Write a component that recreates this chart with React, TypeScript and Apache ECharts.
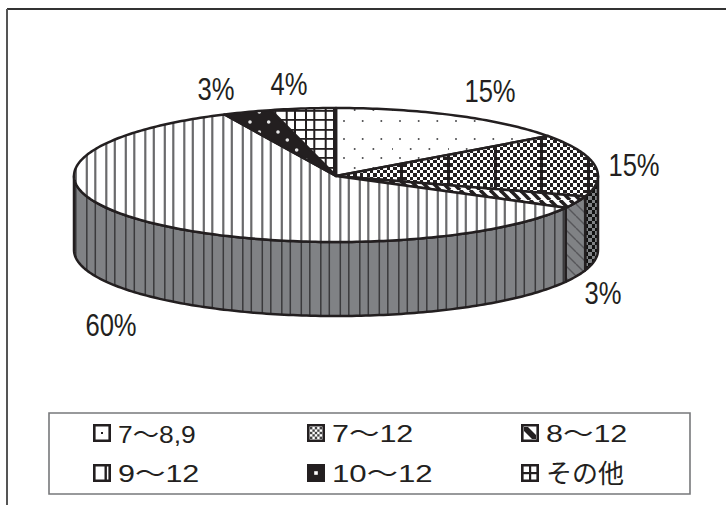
import React, { useEffect, useRef } from "react";
import * as echarts from "echarts";

// Share of each planting period, in percent, clockwise from twelve o'clock.
const periods = ["7〜8,9", "7〜12", "8〜12", "9〜12", "10〜12", "その他"];
const shares = [15, 15, 3, 60, 3, 4];

const INK = "#231f20";
const WALL = "#808285";
const FONT = '"Liberation Sans", "Noto Sans CJK JP", sans-serif';

// Pie projection on the page.
const CX = 336;
const CY = 176;
const RX = 262;
const RY_BACK = 68;
const RY_FRONT = 66;
const DEPTH = 74;

const labelAnchors = [
  [490, 91],
  [634, 165],
  [603, 293],
  [111, 325],
  [216, 89],
  [289, 84],
];
const legendCols = [93, 307, 521];
const legendRows = [424, 464];
const legendStretch = [1.1, 1.27, 1.27, 1.27, 1.3, 1];

type Draw = (c: CanvasRenderingContext2D) => void;

function tile(w: number, h: number, draw: Draw) {
  const canvas = document.createElement("canvas");
  canvas.width = w;
  canvas.height = h;
  draw(canvas.getContext("2d") as CanvasRenderingContext2D);
  return { image: canvas, repeat: "repeat", imageWidth: w, imageHeight: h };
}

function fillAll(c: CanvasRenderingContext2D, w: number, h: number, color: string) {
  c.fillStyle = color;
  c.fillRect(0, 0, w, h);
}

function dots(c: CanvasRenderingContext2D, pts: number[][], size: number, color: string) {
  c.fillStyle = color;
  pts.forEach(([x, y]) => {
    c.beginPath();
    c.arc(x, y, size / 2, 0, Math.PI * 2);
    c.fill();
  });
}

// Checks snapped to whole pixels so they stay crisp.
function checker(
  c: CanvasRenderingContext2D,
  cols: number,
  rows: number,
  w: number,
  h: number,
  color: string,
) {
  c.fillStyle = color;
  for (let i = 0; i < cols; i++) {
    const x0 = Math.round((i * w) / cols);
    const x1 = Math.round(((i + 1) * w) / cols);
    for (let j = 0; j < rows; j++) {
      if ((i + j) % 2 !== 0) continue;
      const y0 = Math.round((j * h) / rows);
      const y1 = Math.round(((j + 1) * h) / rows);
      c.fillRect(x0, y0, x1 - x0, y1 - y0);
    }
  }
}

function stripes(c: CanvasRenderingContext2D, xs: number[], h: number, width: number, color: string) {
  c.fillStyle = color;
  xs.forEach((x) => c.fillRect(x - width / 2, 0, width, h));
}

function buildFills() {
  const ribXs = [8.8, 17.3, 28.3, 36.8];
  const sparse = tile(56, 76, (c) => {
    fillAll(c, 56, 76, "#fff");
    const rows: number[][] = [
      [34, 10.7],
      [45, 0],
      [63, 0],
      [73, 10.7],
      [6, 0],
      [16, 10.7],
    ];
    const pts: number[][] = [];
    rows.forEach(([y, dx]) => {
      for (let k = 0; k < 3; k++) pts.push([(8 + dx + k * 18.67) % 56, y]);
    });
    dots(c, pts, 2, "#4d4d4f");
  });
  const check = tile(140, 20, (c) => {
    fillAll(c, 140, 20, "#fff");
    checker(c, 42, 6, 140, 20, INK);
    c.fillStyle = INK;
    [27, 74, 120].forEach((x) => c.fillRect(x, 0, 3, 20));
  });
  const checkWall = tile(14, 14, (c) => {
    fillAll(c, 14, 14, "#111");
    checker(c, 4, 4, 14, 14, WALL);
  });
  const diagonal = tile(10, 10, (c) => {
    fillAll(c, 10, 10, "#fff");
    c.strokeStyle = INK;
    c.lineWidth = 3.6;
    [-10, 0, 10].forEach((o) => {
      c.beginPath();
      c.moveTo(o, 0);
      c.lineTo(o + 10, 10);
      c.stroke();
    });
  });
  const diagonalWall = tile(12, 12, (c) => {
    fillAll(c, 12, 12, WALL);
    c.strokeStyle = "#56565a";
    c.lineWidth = 1.4;
    [-12, 0, 12].forEach((o) => {
      c.beginPath();
      c.moveTo(o, 0);
      c.lineTo(o + 12, 12);
      c.stroke();
    });
  });
  const ribs = tile(39, 8, (c) => {
    fillAll(c, 39, 8, "#fff");
    stripes(c, ribXs, 8, 2.2, "#6a6a6c");
  });
  const ribsWall = tile(39, 8, (c) => {
    fillAll(c, 39, 8, WALL);
    stripes(c, ribXs, 8, 1.5, "#3a3a3c");
  });
  const blackDots = tile(56, 38, (c) => {
    fillAll(c, 56, 38, INK);
    const pts: number[][] = [];
    [
      [8, 0],
      [18, 9.33],
      [26, 0],
      [36, 9.33],
    ].forEach(([y, dx]) => {
      for (let k = 0; k < 3; k++) pts.push([(7.33 + dx + k * 18.67) % 56, y]);
    });
    dots(c, pts, 3.6, "#e8e8e8");
  });
  const grid = tile(39, 38, (c) => {
    fillAll(c, 39, 38, "#fff");
    stripes(c, [2.3, 13.7, 22, 33], 38, 2, INK);
    c.fillStyle = INK;
    [6, 16, 25, 35].forEach((y) => c.fillRect(0, y - 1, 39, 1.8));
  });
  return {
    tops: [sparse, check, diagonal, ribs, blackDots, grid],
    walls: ["#fff", checkWall, diagonalWall, ribsWall, INK, "#fff"],
  };
}

// Projects a clockwise angle (radians, zero at the top) on to the top ellipse.
function rim(a: number): number[] {
  const cos = Math.cos(a);
  return [CX + RX * Math.sin(a), CY - (cos > 0 ? RY_BACK : RY_FRONT) * cos];
}

function arcPoints(a0: number, a1: number): number[][] {
  const n = Math.max(2, Math.ceil(((a1 - a0) * 180) / Math.PI));
  const pts: number[][] = [];
  for (let i = 0; i <= n; i++) pts.push(rim(a0 + ((a1 - a0) * i) / n));
  return pts;
}

function legendMark(index: number, x: number, y: number) {
  const s = 18;
  const detail: any[] = [];
  const ink = { fill: INK };
  const white = { fill: "#fff" };
  const box = (bx: number, by: number, w: number, h: number, style: any) => ({
    type: "rect",
    shape: { x: x + bx, y: y + by, width: w, height: h },
    style,
  });
  let base = "#fff";
  if (index === 0) detail.push(box(8, 8, 2, 2, ink));
  if (index === 1) {
    base = "#fff";
    for (let i = 0; i < 5; i++) {
      for (let j = 0; j < 5; j++) {
        if ((i + j) % 2 === 0) detail.push(box(3 + i * 2.4, 3 + j * 2.4, 2.4, 2.4, { fill: "#444" }));
      }
    }
  }
  if (index === 2) {
    detail.push({
      type: "polygon",
      shape: {
        points: [
          [x + 3, y + 3],
          [x + 7, y + 3],
          [x + 15, y + 11],
          [x + 15, y + 15],
          [x + 11, y + 15],
          [x + 3, y + 7],
        ],
      },
      style: ink,
    });
  }
  if (index === 3) detail.push(box(11.5, 1, 2.4, 16, ink));
  if (index === 4) {
    base = INK;
    detail.push(box(7.2, 7.2, 3.6, 3.6, white));
  }
  if (index === 5) detail.push(box(8, 1, 2.2, 16, ink), box(1, 8, 16, 2.2, ink));
  return [
    {
      type: "rect",
      shape: { x: x + 1.3, y: y + 1.3, width: s - 2.6, height: s - 2.6 },
      style: { fill: base, stroke: INK, lineWidth: 2.6 },
    },
    ...detail,
  ];
}

function legendGraphics() {
  const items: any[] = [];
  periods.forEach((name, i) => {
    const x = legendCols[i % 3];
    const y = legendRows[Math.floor(i / 3)];
    const isKana = name === "その他";
    items.push(...legendMark(i, x, y));
    items.push({
      type: "text",
      x: x + 25,
      y: y + 10,
      scaleX: legendStretch[i],
      style: {
        text: name,
        font: `${isKana ? 26 : 24}px ${FONT}`,
        fill: INK,
        textAlign: "left",
        textVerticalAlign: "middle",
      },
    });
  });
  return items;
}

export default function App() {
  const ref = useRef<HTMLDivElement>(null);

  useEffect(() => {
    const chart = echarts.init(ref.current as HTMLDivElement, undefined, { renderer: "svg" });
    const fills = buildFills();
    const total = shares.reduce((s, v) => s + v, 0);
    const turn = (v: number) => (v / total) * Math.PI * 2;
    const outline = { stroke: INK, lineWidth: 2.5, lineJoin: "round" };

    chart.setOption({
      animation: false,
      backgroundColor: "#fff",
      series: [
        {
          type: "custom",
          coordinateSystem: "none",
          silent: true,
          data: shares.map((v) => [v]),
          renderItem: (params: any, api: any) => {
            const i = params.dataIndex;
            const before = shares.slice(0, i).reduce((s, v) => s + v, 0);
            const a0 = turn(before);
            const a1 = a0 + turn(api.value(0));
            const children: any[] = [];
            // Only the part of a slice on the near half of the pie shows a wall.
            const w0 = Math.max(a0, Math.PI / 2);
            const w1 = Math.min(a1, (Math.PI * 3) / 2);
            if (w1 > w0) {
              const edge = arcPoints(w0, w1);
              const lower = edge.map(([x, y]) => [x, y + DEPTH]).reverse();
              children.push({
                type: "polygon",
                z2: 1,
                shape: { points: [...edge, ...lower] },
                style: { fill: fills.walls[i], ...outline },
              });
            }
            children.push({
              type: "polygon",
              z2: 2,
              shape: { points: [[CX, CY], ...arcPoints(a0, a1)] },
              style: { fill: fills.tops[i], ...outline },
            });
            return { type: "group", children };
          },
        },
      ],
      graphic: {
        elements: [
          {
            type: "line",
            shape: { x1: 7, y1: 9, x2: 726, y2: 9 },
            style: { stroke: "#333", lineWidth: 2 },
          },
          {
            type: "line",
            shape: { x1: 7, y1: 9, x2: 7, y2: 505 },
            style: { stroke: "#555", lineWidth: 2 },
          },
          {
            type: "rect",
            shape: { x: 49, y: 413, width: 641, height: 81 },
            style: { fill: "#fff", stroke: "#77787b", lineWidth: 1.6 },
          },
          ...shares.map((v, i) => ({
            type: "text",
            x: labelAnchors[i][0],
            y: labelAnchors[i][1],
            scaleX: 0.8,
            style: {
              text: `${v}%`,
              font: `32px ${FONT}`,
              fill: INK,
              textAlign: "center",
              textVerticalAlign: "middle",
            },
          })),
          ...legendGraphics(),
        ],
      },
    });
    return () => chart.dispose();
  }, []);

  return <div ref={ref} style={{ position: "fixed", left: 0, top: 0, width: 726, height: 505 }} />;
}
